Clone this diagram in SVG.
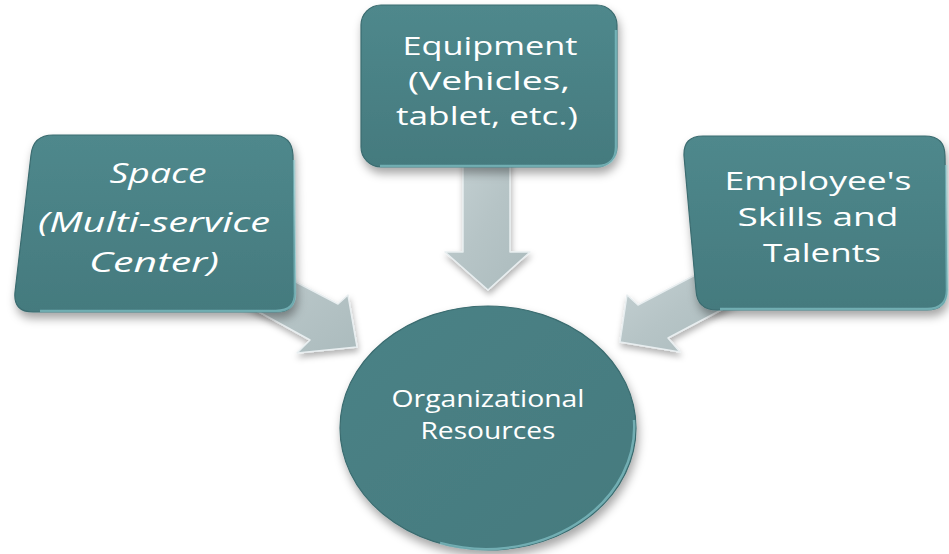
<svg xmlns="http://www.w3.org/2000/svg" width="949" height="554" viewBox="0 0 949 554">
<defs>
<linearGradient id="boxg" x1="0" y1="0" x2="0" y2="1">
<stop offset="0" stop-color="#4f888c"/>
<stop offset="1" stop-color="#447a7e"/>
</linearGradient>
<linearGradient id="circg" x1="0" y1="0" x2="1" y2="1">
<stop offset="0" stop-color="#4a8286"/>
<stop offset="1" stop-color="#457a7e"/>
</linearGradient>
<linearGradient id="arrg" x1="0" y1="0" x2="1" y2="1">
<stop offset="0" stop-color="#c6d2d4"/>
<stop offset="0.5" stop-color="#b6c4c6"/>
<stop offset="1" stop-color="#abbbbd"/>
</linearGradient>
<filter id="sh" x="-20%" y="-20%" width="140%" height="150%">
<feDropShadow dx="2" dy="6" stdDeviation="5" flood-color="#000" flood-opacity="0.35"/>
</filter>
<filter id="ash" x="-20%" y="-20%" width="140%" height="150%">
<feDropShadow dx="1" dy="4" stdDeviation="3" flood-color="#000" flood-opacity="0.3"/>
</filter>
</defs>
<style>
.box{fill:url(#boxg);stroke:#3b6c70;stroke-width:1.2;filter:url(#sh)}
.bev{fill:none;stroke:#8fd0d6;stroke-width:2.5;stroke-opacity:0.6}
.arr{fill:url(#arrg);stroke:#e8eef0;stroke-width:1.5;stroke-linejoin:round;filter:url(#ash)}
.t{font-family:"Open Sans","DejaVu Sans",sans-serif;fill:#ffffff;text-anchor:middle}
.tb{font-size:25.5px}
.ti{font-size:28px;font-style:italic}
.tc{font-size:23px}
</style>
<rect width="949" height="554" fill="#ffffff"/>
<g id="connectors">
<polygon class="arr" points="463,150 510,150 510,252 530,252 488,290 445,252 463,252"/>
<polygon class="arr" points="250,258 338,304 348,295 357,347 297,353 310,340 230,296"/>
<polygon class="arr" points="720,262 638,305 627,295 620,342 680,352 668,338 740,300"/>
</g>
<g id="node-space">
<path class="box" d="M53,135 L272,135 Q292,135 293,155 L295,292 Q296,312 276,312 L33,312 Q13,312 15,292 L31,155 Q33,135 53,135 Z"/>
<path class="bev" d="M294,160 L295,292 Q296,311 276,311 L40,311"/>
<text class="t ti" x="158" y="183" textLength="97" lengthAdjust="spacingAndGlyphs">Space</text>
<text class="t ti" x="154" y="232" textLength="232" lengthAdjust="spacingAndGlyphs">(Multi-service</text>
<text class="t ti" x="154" y="272" textLength="130" lengthAdjust="spacingAndGlyphs">Center)</text>
</g>
<g id="node-equipment">
<rect class="box" x="361" y="5" width="256" height="162" rx="20"/>
<path class="bev" d="M616,30 L616,147 Q616,166 597,166 L380,166"/>
<text class="t tb" x="490" y="55" textLength="175" lengthAdjust="spacingAndGlyphs">Equipment</text>
<text class="t tb" x="489" y="90" textLength="162" lengthAdjust="spacingAndGlyphs">(Vehicles,</text>
<text class="t tb" x="487" y="125" textLength="182" lengthAdjust="spacingAndGlyphs">tablet, etc.)</text>
</g>
<g id="node-employee">
<path class="box" d="M703,136 L925,136 Q945,136 945,156 L947,290 Q947,310 927,310 L717,310 Q697,310 696,290 L684,156 Q683,136 703,136 Z"/>
<path class="bev" d="M946,165 L947,290 Q947,309 927,309 L720,309"/>
<text class="t tb" x="818" y="190" textLength="187" lengthAdjust="spacingAndGlyphs">Employee's</text>
<text class="t tb" x="818" y="226" textLength="161" lengthAdjust="spacingAndGlyphs">Skills and</text>
<text class="t tb" x="822" y="262" textLength="118" lengthAdjust="spacingAndGlyphs">Talents</text>
</g>
<g id="node-org">
<ellipse cx="488" cy="428" rx="148" ry="122" fill="url(#circg)" stroke="#3b6c70" stroke-width="1.2" filter="url(#sh)"/>
<path class="bev" d="M634,420 A148,122 0 0 1 440,543"/>
<text class="t tc" x="488" y="407" textLength="193" lengthAdjust="spacingAndGlyphs">Organizational</text>
<text class="t tc" x="488" y="439" textLength="135" lengthAdjust="spacingAndGlyphs">Resources</text>
</g>
</svg>
